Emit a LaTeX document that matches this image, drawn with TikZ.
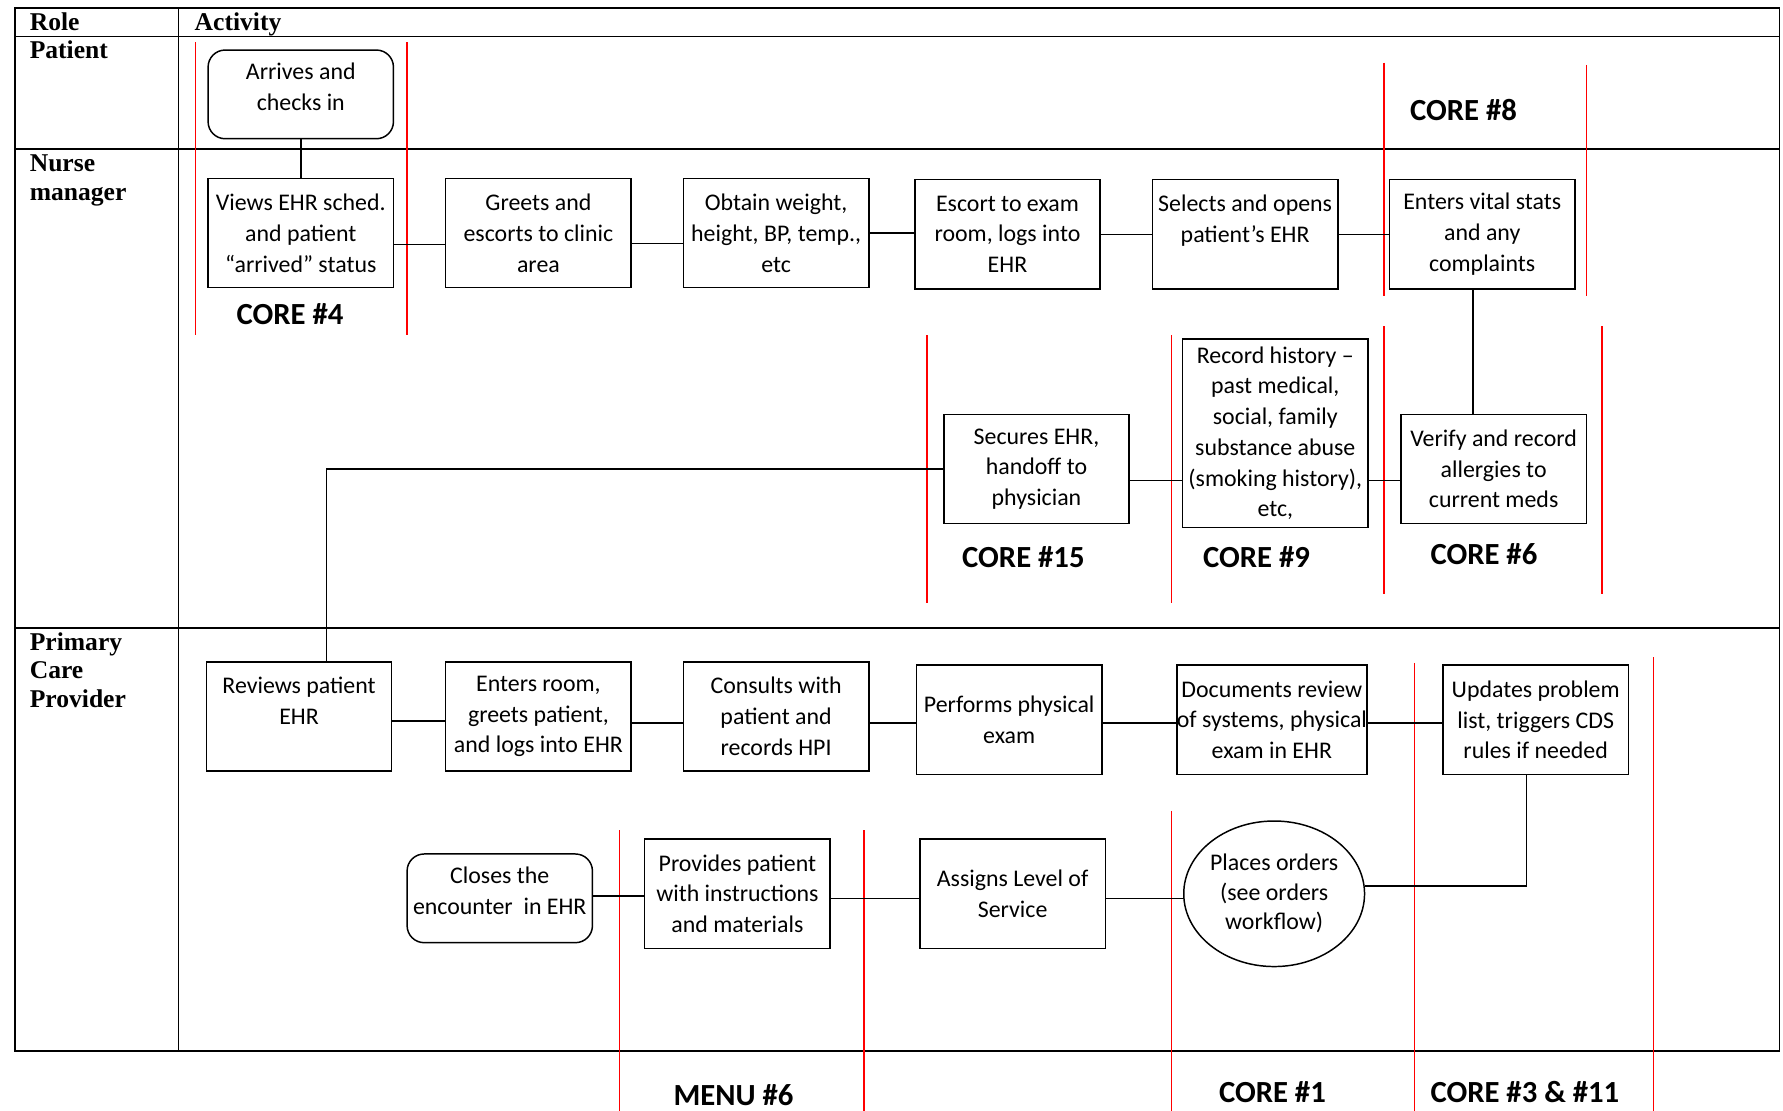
\documentclass[tikz,border=0pt]{standalone}
\usepackage{fontspec}
\setmainfont{Carlito}
\newfontfamily\lanefont{Liberation Serif}
\usetikzlibrary{shapes.geometric,calc}

\tikzset{
  grid/.style={line width=1.5pt, black},
  actbox/.style={draw, line width=1.3pt, align=center, inner sep=0pt,
    minimum width=163pt, minimum height=96pt,
    font=\fontsize{21}{27}\selectfont},
  roundbox/.style={actbox, rounded corners=15pt, minimum height=78pt},
  ovalbox/.style={draw, line width=1.3pt, ellipse, align=center, inner sep=-12pt,
    minimum width=159pt, minimum height=128pt,
    font=\fontsize{21}{26}\selectfont},
  link/.style={line width=1.3pt, black},
  mark line/.style={line width=1.3pt, red},
  corelabel/.style={font=\fontsize{27}{30}\selectfont\bfseries, inner sep=0pt},
  lanelabel/.style={font=\lanefont\bfseries\fontsize{22.5}{25}\selectfont,
    align=left, anchor=north west, inner sep=0pt},
}

\begin{document}
\begin{tikzpicture}[x=1pt, y=-1pt]
\useasboundingbox (0,0) rectangle (1568,977);

% swimlane table
\draw[grid] (13,7) rectangle (1565,924);
\draw[grid] (157,7) -- (157,924);
\draw[grid] (13,32) -- (1565,32);
\draw[grid] (13,131) -- (1565,131);
\draw[grid] (13,552) -- (1565,552);

\node[lanelabel] (hrole) at (26,11) {Role};
\node[lanelabel] (hact) at (171,11) {Activity};
\node[lanelabel] (lpat) at (26,36) {Patient};
\node[lanelabel] (lnurse) at (26,136) {Nurse\\manager};
\node[lanelabel] (lpcp) at (26,556) {Primary\\Care\\Provider};

% measure boundaries
\foreach \x/\ya/\yb in {172/37/295, 358/37/295, 1217/55/260, 1395/57/260,
    815/295/530, 1030/295/530, 1217/287/522, 1409/287/522,
    545/730/977, 760/730/977, 1030/713/977, 1244/583/977, 1454/578/977}
  \draw[mark line] (\x,\ya) -- (\x,\yb);

% patient
\node[roundbox] (arrives) at (264.5,83) {Arrives and\\checks in\\[-14pt]\mbox{}};

% nurse manager, upper row
\node[actbox] (views) at (264.5,205) {Views EHR sched.\\and patient\\“arrived” status};
\node[actbox] (greets) at (473.5,205) {Greets and\\escorts to clinic\\area};
\node[actbox] (obtain) at (682.5,205) {Obtain weight,\\height, BP, temp.,\\etc};
\node[actbox] (escort) at (886,206) {Escort to exam\\room, logs into\\EHR};
\node[actbox] (selects) at (1095,206) {Selects and opens\\patient’s EHR\\\mbox{}};
\node[actbox] (vitals) at (1303.5,206) {Enters vital stats\\and any\\complaints};

% nurse manager, lower row
\node[actbox] (secures) at (911.5,412.5) {Secures EHR,\\handoff to\\physician};
\node[actbox, minimum height=166pt] (history) at (1121.5,381) {Record history –\\past medical,\\social, family\\substance abuse\\(smoking history),\\etc,};
\node[actbox] (verify) at (1313.5,412.5) {Verify and record\\allergies to\\current meds};

% primary care provider, upper row
\node[actbox] (reviews) at (263,630) {Reviews patient\\EHR\\\mbox{}};
\node[actbox] (room) at (473.5,630) {Enters room,\\greets patient,\\and logs into EHR};
\node[actbox] (consults) at (682.5,630) {Consults with\\patient and\\records HPI};
\node[actbox] (physical) at (887.5,633) {Performs physical\\exam};
\node[actbox] (documents) at (1118.5,633) {Documents review\\of systems, physical\\exam in EHR};
\node[actbox] (updates) at (1350.5,633) {Updates problem\\list, triggers CDS\\rules if needed};

% primary care provider, lower row
\node[roundbox] (closes) at (439.5,790) {Closes the\\encounter\ \ in EHR\\[-14pt]\mbox{}};
\node[actbox] (provides) at (648.5,786) {Provides patient\\with instructions\\and materials};
\node[actbox] (assigns) at (890.5,786) {Assigns Level of\\Service};
\node[ovalbox] (orders) at (1120.5,786) {Places orders\\(see orders\\workflow)};

% measure labels
\node[corelabel] (c4) at (255,276) {CORE \#4};
\node[corelabel] (c8) at (1287,97) {CORE \#8};
\node[corelabel] (c15) at (900,490) {CORE \#15};
\node[corelabel] (c9) at (1105,490) {CORE \#9};
\node[corelabel] (c6) at (1305,487) {CORE \#6};
\node[corelabel] (m6) at (645,963) {MENU \#6};
\node[corelabel] (c1) at (1119,960) {CORE \#1};
\node[corelabel] (c311) at (1341,960) {CORE \#3 \& \#11};

% connectors
\draw[link] (arrives.south) -- (views.north);
\draw[link] ([yshift=-10pt]views.east) -- ([yshift=-10pt]greets.west);
\draw[link] ([yshift=-9pt]greets.east) -- ([yshift=-9pt]obtain.west);
\draw[link] (obtain.east) -- (obtain.east -| escort.west);
\draw[link] (escort.east) -- (escort.east -| selects.west);
\draw[link] (selects.east) -- (selects.east -| vitals.west);
\draw[link] ([xshift=-8pt]vitals.south) -- ([xshift=-8pt]vitals.south |- verify.north);
\draw[link] ([yshift=-10pt]verify.west) -- ([yshift=-10pt]verify.west -| history.east);
\draw[link] ([yshift=-10pt]secures.east) -- ([yshift=-10pt]secures.east -| history.west);
\draw[link] (secures.west) -| ([xshift=24pt]reviews.north);
\draw[link] ([yshift=-4pt]reviews.east) -- ([yshift=-4pt]room.west);
\draw[link] ([yshift=-6pt]room.east) -- ([yshift=-6pt]consults.west);
\draw[link] ([yshift=-6pt]consults.east) -- ([yshift=-6pt]consults.east -| physical.west);
\draw[link] ([yshift=-3pt]physical.east) -- ([yshift=-3pt]documents.west);
\draw[link] ([yshift=-3pt]documents.east) -- ([yshift=-3pt]updates.west);
\draw[link] ([xshift=-8pt]updates.south) |- (orders.5);
\draw[link] ([yshift=-4pt]assigns.east) -- ([yshift=-4pt]assigns.east -| orders.west);
\draw[link] ([yshift=-4pt]provides.east) -- ([yshift=-4pt]assigns.west);
\draw[link] ([yshift=-2pt]provides.west) -- ([yshift=-2pt]provides.west -| closes.east);
\end{tikzpicture}
\end{document}
